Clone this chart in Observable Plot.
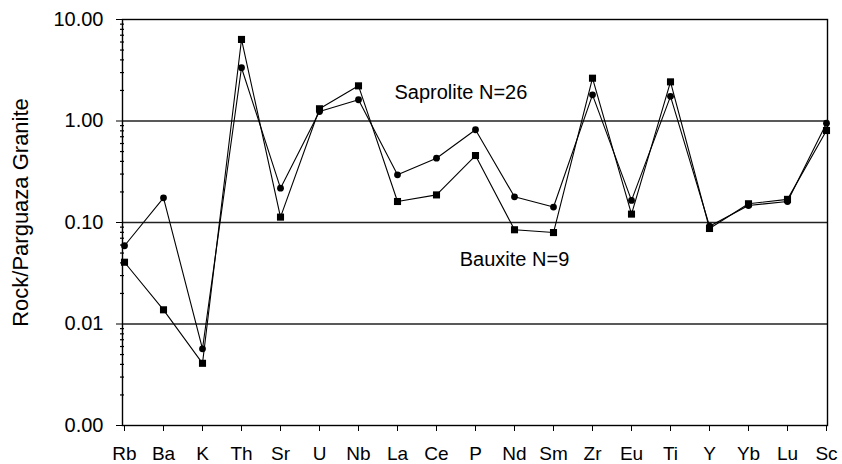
<!DOCTYPE html>
<html>
<head>
<meta charset="utf-8">
<script src="https://cdn.jsdelivr.net/npm/d3@7"></script>
<script src="https://cdn.jsdelivr.net/npm/@observablehq/plot@0.6"></script>
<style>
  html, body { margin: 0; padding: 0; background: #fff; }
  #chart svg { display: block; }
</style>
</head>
<body>
<div id="chart"></div>
<script>
// Elements along the x axis, in plotting order
const elements = ["Rb", "Ba", "K", "Th", "Sr", "U", "Nb", "La", "Ce", "P", "Nd", "Sm", "Zr", "Eu", "Ti", "Y", "Yb", "Lu", "Sc"];

// Rock / Parguaza Granite ratios
const saprolite = [0.059, 0.175, 0.0057, 3.35, 0.218, 1.24, 1.62, 0.295, 0.43, 0.82, 0.179, 0.142, 1.81, 0.165, 1.75, 0.092, 0.147, 0.161, 0.95];
const bauxite   = [0.0406, 0.0138, 0.0041, 6.36, 0.113, 1.32, 2.22, 0.161, 0.187, 0.457, 0.0848, 0.0796, 2.64, 0.121, 2.43, 0.0873, 0.153, 0.169, 0.806];

// Axis ticks
const majorTicks = [0.001, 0.01, 0.1, 1, 10];
const gridValues = [0.01, 0.1, 1];
const minorTicks = [-3, -2, -1, 0].flatMap(e => [2, 3, 4, 5, 6, 7, 8, 9].map(m => m * Math.pow(10, e)));

// Series labels
const saproliteLabel = {text: "Saprolite N=26", element: "La", value: 1.9};
const bauxiteLabel = {text: "Bauxite N=9", element: "Nd", value: 0.043};
const yLabel = "Rock/Parguaza Granite";

const rows = (vals) => elements.map((el, i) => ({element: el, value: vals[i]}));
const sapRows = rows(saprolite);
const bauRows = rows(bauxite);

const font = "'Liberation Sans', Arial, Helvetica, sans-serif";

const chart = Plot.plot({
  width: 842,
  height: 464,
  marginLeft: 122,
  marginRight: 15,
  marginTop: 19,
  marginBottom: 39,
  style: {fontFamily: font, fontSize: "20px", color: "#000", background: "#fff", overflow: "visible"},
  x: {type: "point", domain: elements, padding: 0, label: null, tickSize: 6, tickPadding: 15},
  y: {type: "log", domain: [0.001, 10], label: null, ticks: majorTicks, tickFormat: d3.format(".2f"), tickSize: 6, tickPadding: 13},
  marks: [
    Plot.ruleY(gridValues, {stroke: "#222", strokeWidth: 1.4}),
    Plot.frame({stroke: "#000", strokeWidth: 1.4}),
    // minor log ticks, drawn just outside the left edge of the frame
    Plot.ruleY(minorTicks, {x1: () => elements[0], x2: () => elements[0], insetLeft: -4, stroke: "#000", strokeWidth: 1.2}),
    Plot.lineY(sapRows, {x: "element", y: "value", stroke: "#000", strokeWidth: 1.1}),
    Plot.lineY(bauRows, {x: "element", y: "value", stroke: "#000", strokeWidth: 1.1}),
    Plot.dot(sapRows, {x: "element", y: "value", r: 3.4, fill: "#000", stroke: "none"}),
    Plot.dot(bauRows, {x: "element", y: "value", r: 4, symbol: "square", fill: "#000", stroke: "none"}),
    Plot.text([saproliteLabel], {x: "element", y: "value", text: "text", textAnchor: "start", dx: -3, fontSize: 20, fill: "#000"}),
    Plot.text([bauxiteLabel], {x: "element", y: "value", text: "text", textAnchor: "middle", fontSize: 20, fill: "#000"}),
    Plot.text([yLabel], {frameAnchor: "left", textAnchor: "middle", rotate: -90, dx: -102, dy: -10, fontSize: 22, fill: "#000"})
  ]
});

// x tick labels slightly smaller so they sit inside the bottom edge
chart.querySelectorAll("[aria-label='x-axis tick label'] text, g[aria-label='x-axis'] text").forEach(t => t.setAttribute("font-size", "19"));

document.getElementById("chart").appendChild(chart);
</script>
</body>
</html>
